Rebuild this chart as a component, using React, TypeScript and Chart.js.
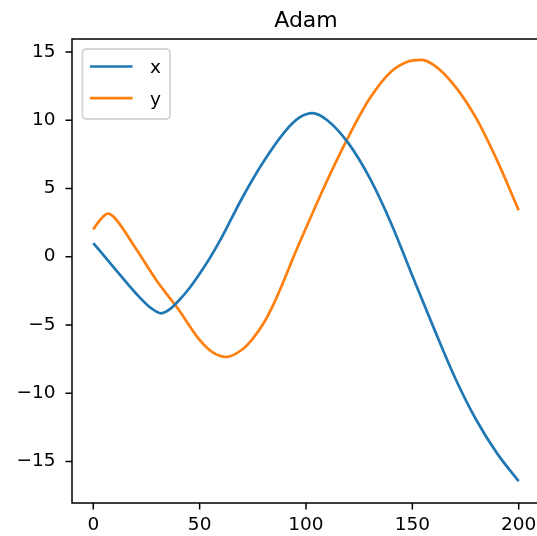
import React, { useEffect, useRef } from "react";
import { Chart, registerables } from "chart.js";

Chart.register(...registerables);

const titleText = "Adam";
const seriesNames = ["x", "y"];
const seriesColors = ["#1f77b4", "#ff7f0e"];

// series "x": step positions and values
const xSteps = [0, 10, 20, 27, 32, 36, 40, 45, 50, 55, 60, 70, 80, 90, 97, 103, 110, 120, 130, 140, 150, 160, 170, 180, 190, 200];
const xValues = [1.0, -0.85, -2.68, -3.75, -4.15, -3.85, -3.25, -2.35, -1.25, -0.05, 1.3, 4.3, 6.95, 9.15, 10.2, 10.52, 10.0, 8.3, 5.75, 2.45, -1.4, -5.2, -8.85, -11.95, -14.45, -16.45];

// series "y"
const ySteps = [0, 3, 7, 10, 20, 30, 40, 50, 56, 62.5, 70, 75, 80, 85, 90, 95, 100, 110, 120, 130, 140, 148, 154, 160, 170, 180, 190, 200];
const yValues = [2.0, 2.65, 3.15, 2.85, 0.6, -1.8, -3.85, -6.1, -7.0, -7.35, -6.8, -6.0, -4.9, -3.4, -1.6, 0.3, 2.1, 5.6, 8.8, 11.6, 13.55, 14.3, 14.42, 14.05, 12.5, 10.15, 7.0, 3.4];

const xTicks = [0, 50, 100, 150, 200];
const yTicks = [-15, -10, -5, 0, 5, 10, 15];

const FONT = '"DejaVu Sans", sans-serif';
const TICK_LEN = 6.5;

const fmt = (v: number) => (v < 0 ? "\u2212" + Math.abs(v) : String(v));

const framePlugin = {
  id: "frame",
  afterDraw(chart: any) {
    const { ctx, chartArea: a } = chart;
    const W = chart.width;
    const sx = chart.scales.x;
    const sy = chart.scales.y;
    ctx.save();
    ctx.strokeStyle = "#000";
    ctx.lineWidth = 1.5;
    // spines: left, top and bottom (the right one lies outside the picture)
    ctx.beginPath();
    ctx.moveTo(a.left, a.top);
    ctx.lineTo(W, a.top);
    ctx.moveTo(a.left, a.bottom);
    ctx.lineTo(W, a.bottom);
    ctx.moveTo(a.left, a.top - 0.75);
    ctx.lineTo(a.left, a.bottom + 0.75);
    ctx.stroke();
    // tick marks
    ctx.beginPath();
    xTicks.forEach((v) => {
      const px = sx.getPixelForValue(v);
      ctx.moveTo(px, a.bottom);
      ctx.lineTo(px, a.bottom + TICK_LEN);
    });
    yTicks.forEach((v) => {
      const py = sy.getPixelForValue(v);
      ctx.moveTo(a.left, py);
      ctx.lineTo(a.left - TICK_LEN, py);
    });
    ctx.stroke();
    // title, centred on the full axes (x = 100 is its middle)
    const cx = sx.getPixelForValue(100);
    ctx.fillStyle = "#000";
    ctx.font = "22px " + FONT;
    ctx.textAlign = "center";
    ctx.textBaseline = "alphabetic";
    ctx.fillText(titleText, cx, a.top - 12);
    // legend
    const bx = a.left + 10.5;
    const by = a.top + 10;
    const bw = 87.5;
    const bh = 70;
    const r = 4;
    ctx.beginPath();
    ctx.moveTo(bx + r, by);
    ctx.lineTo(bx + bw - r, by);
    ctx.quadraticCurveTo(bx + bw, by, bx + bw, by + r);
    ctx.lineTo(bx + bw, by + bh - r);
    ctx.quadraticCurveTo(bx + bw, by + bh, bx + bw - r, by + bh);
    ctx.lineTo(bx + r, by + bh);
    ctx.quadraticCurveTo(bx, by + bh, bx, by + bh - r);
    ctx.lineTo(bx, by + r);
    ctx.quadraticCurveTo(bx, by, bx + r, by);
    ctx.closePath();
    ctx.fillStyle = "rgba(255,255,255,0.8)";
    ctx.fill();
    ctx.strokeStyle = "rgba(204,204,204,0.8)";
    ctx.lineWidth = 1.8;
    ctx.stroke();
    seriesNames.forEach((name, i) => {
      const rowY = by + 17.5 + i * 31.6;
      ctx.beginPath();
      ctx.strokeStyle = seriesColors[i];
      ctx.lineWidth = 2.7;
      ctx.moveTo(bx + 7.5, rowY);
      ctx.lineTo(bx + 50, rowY);
      ctx.stroke();
      ctx.fillStyle = "#000";
      ctx.font = "18.5px " + FONT;
      ctx.textAlign = "left";
      ctx.textBaseline = "alphabetic";
      ctx.fillText(name, bx + 67.5, rowY + 6.6);
    });
    ctx.restore();
  },
};

export default function App() {
  const ref = useRef<HTMLCanvasElement | null>(null);

  useEffect(() => {
    if (!ref.current) return;
    const gridOpts = { display: false, drawTicks: true, tickLength: TICK_LEN };
    const chart = new Chart(ref.current, {
      type: "line",
      data: {
        datasets: [
          {
            label: seriesNames[0],
            data: xSteps.map((t, i) => ({ x: t, y: xValues[i] })),
            borderColor: seriesColors[0],
            borderWidth: 2.7,
            pointRadius: 0,
            cubicInterpolationMode: "monotone",
          },
          {
            label: seriesNames[1],
            data: ySteps.map((t, i) => ({ x: t, y: yValues[i] })),
            borderColor: seriesColors[1],
            borderWidth: 2.7,
            pointRadius: 0,
            cubicInterpolationMode: "monotone",
          },
        ],
      },
      options: {
        responsive: false,
        devicePixelRatio: 1,
        animation: false,
        layout: { padding: { top: 39, right: 0, left: 0, bottom: 0 } },
        plugins: {
          legend: { display: false },
          title: { display: false },
          tooltip: { enabled: false },
        },
        scales: {
          x: {
            type: "linear",
            min: -10,
            max: 208.6,
            afterFit: (s: any) => {
              s.height = 33;
              s.paddingLeft = 0;
              s.paddingRight = 0;
            },
            afterBuildTicks: (s: any) => {
              s.ticks = xTicks.map((v) => ({ value: v }));
            },
            grid: gridOpts,
            border: { display: false },
            ticks: {
              color: "#000",
              font: { family: FONT, size: 18.5 },
              padding: 5,
              maxRotation: 0,
              autoSkip: false,
              callback: (v: any) => fmt(Number(v)),
            },
          },
          y: {
            type: "linear",
            min: -18.05,
            max: 15.95,
            afterFit: (s: any) => {
              s.width = 72;
              s.paddingTop = 0;
              s.paddingBottom = 0;
            },
            afterBuildTicks: (s: any) => {
              s.ticks = yTicks.map((v) => ({ value: v }));
            },
            grid: gridOpts,
            border: { display: false },
            ticks: {
              color: "#000",
              font: { family: FONT, size: 18.5 },
              padding: 10,
              autoSkip: false,
              callback: (v: any) => fmt(Number(v)),
            },
          },
        },
      },
      plugins: [framePlugin],
    });
    return () => chart.destroy();
  }, []);

  return (
    <div
      style={{
        position: "fixed",
        left: 0,
        top: 0,
        width: 537,
        height: 536,
        overflow: "hidden",
        background: "#fff",
      }}
    >
      <canvas ref={ref} width={537} height={536} style={{ display: "block", width: 537, height: 536 }} />
    </div>
  );
}
